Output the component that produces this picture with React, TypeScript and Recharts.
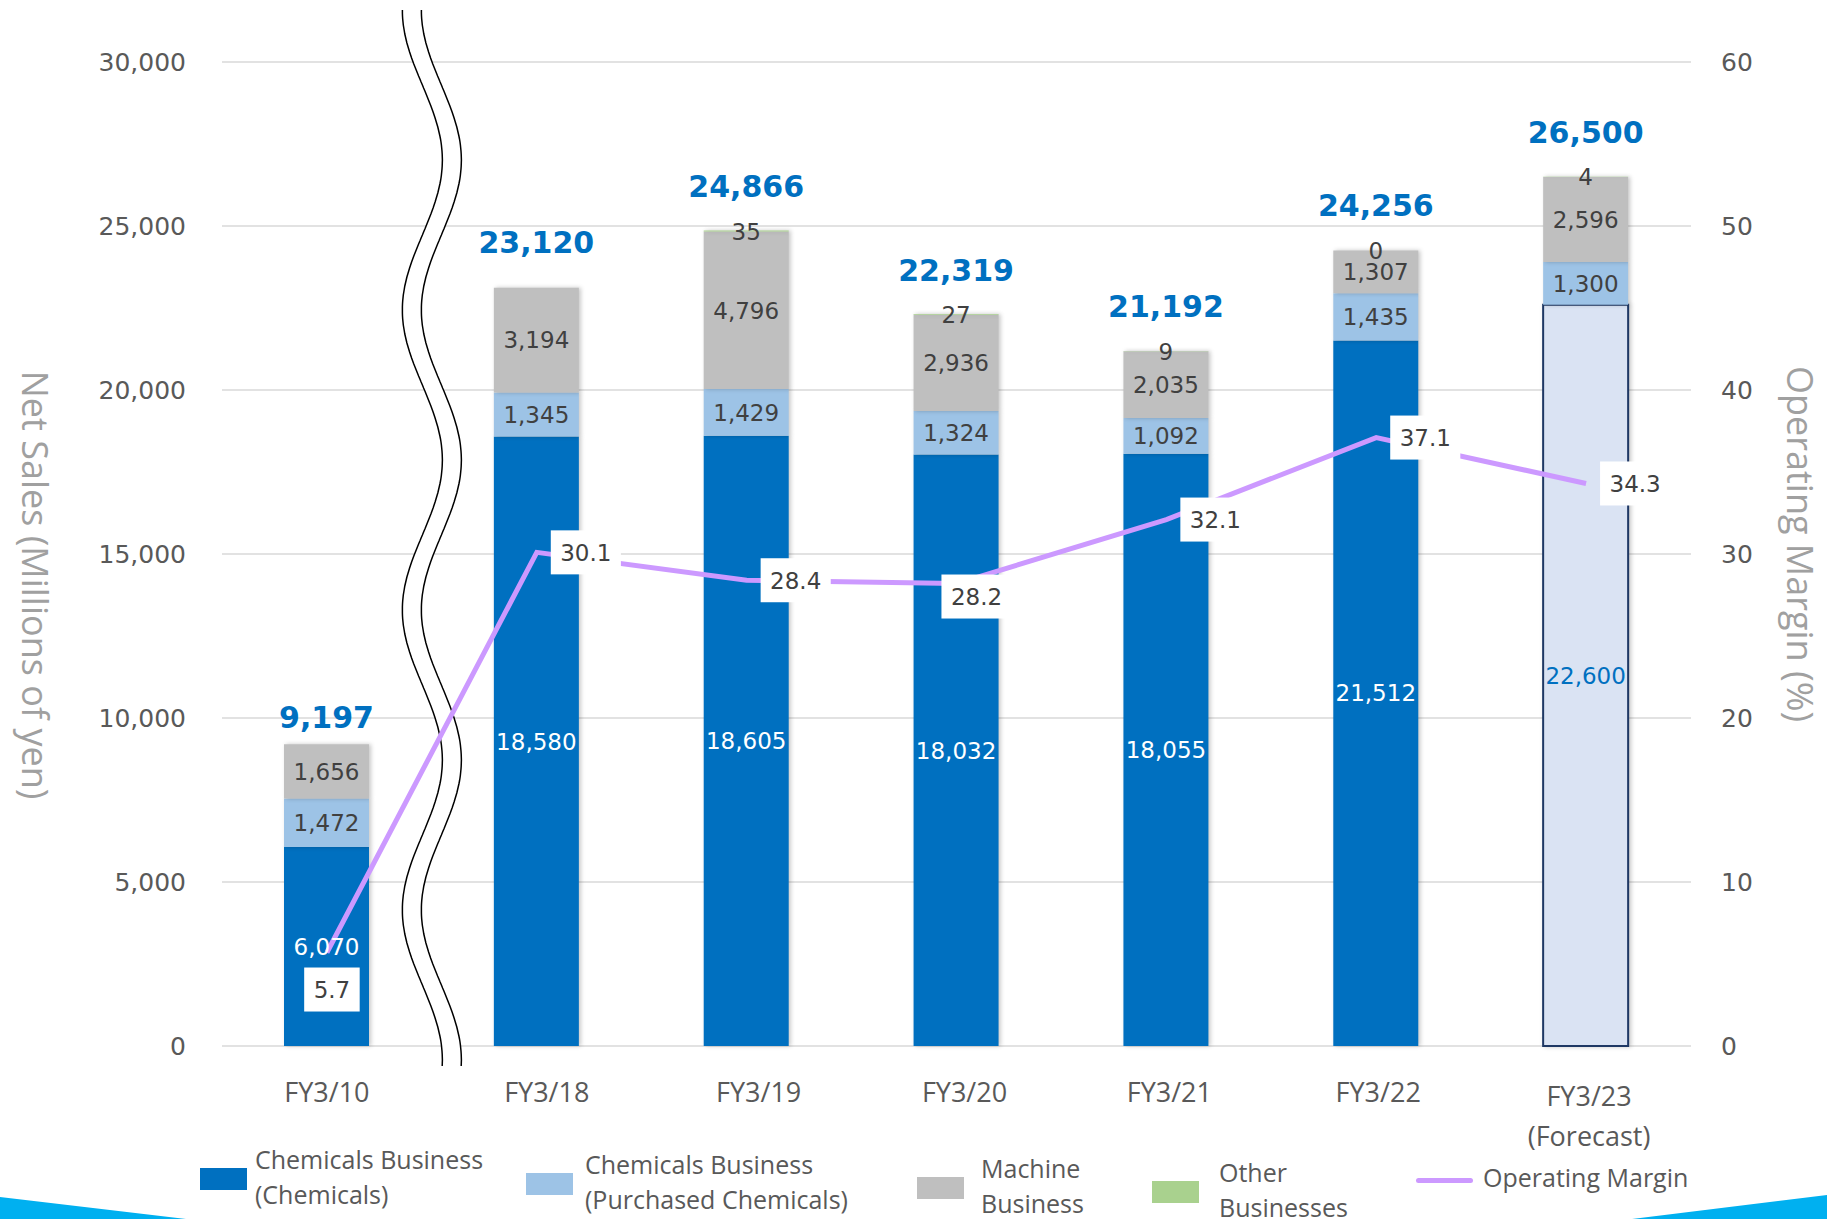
import type { ReactElement } from 'react'
import {
	Bar,
	CartesianGrid,
	Cell,
	ComposedChart,
	Customized,
	LabelList,
	Line,
	XAxis,
	YAxis
} from 'recharts'

const categories = ['FY3/10', 'FY3/18', 'FY3/19', 'FY3/20', 'FY3/21', 'FY3/22', 'FY3/23\n(Forecast)']
const chemicals = [6070, 18580, 18605, 18032, 18055, 21512, 22600]
const purchasedChemicals = [1472, 1345, 1429, 1324, 1092, 1435, 1300]
const machine = [1656, 3194, 4796, 2936, 2035, 1307, 2596]
const otherBusinesses: (number | null)[] = [null, null, 35, 27, 9, 0, 4]
const netSales = [9197, 23120, 24866, 22319, 21192, 24256, 26500]
const operatingMargin = [5.7, 30.1, 28.4, 28.2, 32.1, 37.1, 34.3]
const isForecast = [false, false, false, false, false, false, true]
const salesTicks = [0, 5000, 10000, 15000, 20000, 25000, 30000]
const marginTicks = [0, 10, 20, 30, 40, 50, 60]

const data = categories.map((name, i) => ({
	name,
	chemicals: chemicals[i],
	purchased: purchasedChemicals[i],
	machine: machine[i],
	other: otherBusinesses[i] ?? 0,
	total: netSales[i],
	margin: operatingMargin[i]
}))

// layout
const W = 1827
const H = 1219
const PLOT_LEFT = 222
const PLOT_RIGHT = 1691
const PLOT_TOP = 62
const PLOT_BOTTOM = 1046

// where each margin label box sits relative to its point
const marginLabelPlace = ['below', 'right', 'right', 'belowRight', 'right', 'right', 'right']
// small horizontal nudges of the category labels, as in the original slide
const tickNudge = [0, 10, 12, 8, 3, 2, 3]
// distance of the total label above the stack
const totalLabelGap = [27, 45, 45, 45, 45, 45, 45]

const VALUE_FONT = 'DejaVu Sans, Verdana, sans-serif'
const TEXT_FONT = 'Open Sans, sans-serif'

const fmt = (v: number) => v.toLocaleString('en-US')

const box = (p: any) => {
	const vb = p.viewBox ?? {}
	return {
		x: Number(p.x ?? vb.x ?? 0),
		y: Number(p.y ?? vb.y ?? 0),
		width: Number(p.width ?? vb.width ?? 0),
		height: Number(p.height ?? vb.height ?? 0)
	}
}

const segmentLabel = (color: (i: number) => string) => (p: any) => {
	const { x, y, width, height } = box(p)
	return (
		<text
			x={x + width / 2}
			y={y + height / 2}
			dy='0.36em'
			textAnchor='middle'
			fill={color(p.index)}
			fontFamily={VALUE_FONT}
			fontSize={23}
		>
			{fmt(Number(p.value))}
		</text>
	)
}

// drawn from the machine segment, whose top is (within a pixel) the top of the stack
const OtherLabel = (p: any) => {
	const v = otherBusinesses[p.index]
	if (v === null || v === undefined) return null
	const { x, y, width } = box(p)
	return (
		<text x={x + width / 2} y={y} dy='0.36em' textAnchor='middle' fill='#404040' fontFamily={VALUE_FONT} fontSize={23}>
			{fmt(v)}
		</text>
	)
}

const TotalLabel = (p: any) => {
	const { x, y, width } = box(p)
	return (
		<text
			x={x + width / 2}
			y={y - (totalLabelGap[p.index] ?? 45)}
			dy='0.36em'
			textAnchor='middle'
			fill='#0070C0'
			fontFamily={VALUE_FONT}
			fontWeight='bold'
			fontSize={30}
		>
			{fmt(Number(p.value))}
		</text>
	)
}

const MarginLabel = (p: any) => {
	const { x, y } = box(p)
	const text = Number(p.value).toFixed(1)
	const tw = text.length * 14.6 - 7.3
	const bw = tw + 19
	const bh = 44
	const place = marginLabelPlace[p.index]
	let cx = x + 14 + bw / 2
	let cy = y
	if (place === 'below') {
		cx = x + 5
		cy = y + 37
	} else if (place === 'belowRight') {
		cx = x + 20
		cy = y + 13
	}
	return (
		<g>
			<rect x={cx - bw / 2} y={cy - bh / 2} width={bw} height={bh} fill='#ffffff' />
			<text x={cx} y={cy} dy='0.36em' textAnchor='middle' fill='#404040' fontFamily={VALUE_FONT} fontSize={23}>
				{text}
			</text>
		</g>
	)
}

const XTick = (p: any) => {
	const lines = String(p.payload.value).split('\n')
	const x = p.x + (tickNudge[p.index] ?? 0)
	return (
		<text x={x} y={p.y} textAnchor='middle' fill='#595959' fontFamily={TEXT_FONT} fontSize={27}>
			{lines.map((line, i) => (
				<tspan key={line} x={x} dy={i === 0 ? (lines.length > 1 ? 60 : 56) : 40}>
					{line}
				</tspan>
			))}
		</text>
	)
}

const wave = (cx: number, top: number, bottom: number) => {
	const pts: string[] = []
	for (let y = top; y <= bottom; y += 3) {
		pts.push(`${(cx - 20 * Math.cos((Math.PI * (y - top)) / 150)).toFixed(1)},${y}`)
	}
	return pts
}

const AxisBreak = (): ReactElement => {
	const mid = PLOT_LEFT + (PLOT_RIGHT - PLOT_LEFT) / categories.length
	const a = wave(mid - 9.5, 10, 1066)
	const b = wave(mid + 9.5, 10, 1066)
	return (
		<g>
			<polygon points={[...a, ...[...b].reverse()].join(' ')} fill='#ffffff' />
			<polyline points={a.join(' ')} fill='none' stroke='#000000' strokeWidth={1.5} />
			<polyline points={b.join(' ')} fill='none' stroke='#000000' strokeWidth={1.5} />
		</g>
	)
}

const legendItems = [
	{ lines: ['Chemicals Business', '(Chemicals)'], color: '#0070C0', left: 200, top: 1142, textLeft: 55, kind: 'box' },
	{ lines: ['Chemicals Business', '(Purchased Chemicals)'], color: '#9DC3E6', left: 526, top: 1147, textLeft: 59, kind: 'box' },
	{ lines: ['Machine', 'Business'], color: '#BFBFBF', left: 917, top: 1151, textLeft: 64, kind: 'box' },
	{ lines: ['Other', 'Businesses'], color: '#A9D18E', left: 1152, top: 1155, textLeft: 67, kind: 'box' },
	{ lines: ['Operating Margin'], color: '#CC99FF', left: 1416, top: 1160, textLeft: 67, kind: 'line' }
]

const App = (): ReactElement => {
	return (
		<div style={{ position: 'absolute', left: 0, top: 0, width: W, height: H, background: '#ffffff', overflow: 'hidden' }}>
			<style>{'.recharts-bar-rectangles { filter: drop-shadow(2px 0 2px rgba(0,0,0,0.22)); }'}</style>
			<ComposedChart
				width={W}
				height={H}
				data={data}
				margin={{ top: PLOT_TOP, right: W - PLOT_RIGHT - 136, bottom: H - PLOT_BOTTOM - 100, left: 0 }}
			>
				<CartesianGrid yAxisId='left' vertical={false} stroke='#D9D9D9' strokeWidth={1.5} />
				<XAxis dataKey='name' axisLine={false} tickLine={false} tickSize={0} tickMargin={0} height={100} interval={0} tick={<XTick />} />
				<YAxis
					yAxisId='left'
					width={PLOT_LEFT}
					domain={[0, 30000]}
					ticks={salesTicks}
					axisLine={false}
					tickLine={false}
					tickSize={0}
					tickMargin={36}
					tickFormatter={fmt}
					tick={{ fill: '#595959', fontSize: 25, fontFamily: VALUE_FONT }}
				/>
				<YAxis
					yAxisId='right'
					orientation='right'
					width={136}
					domain={[0, 60]}
					ticks={marginTicks}
					axisLine={false}
					tickLine={false}
					tickSize={0}
					tickMargin={30}
					tick={{ fill: '#595959', fontSize: 25, fontFamily: VALUE_FONT, textAnchor: 'start' }}
				/>
				<Bar yAxisId='left' dataKey='chemicals' stackId='s' barSize={85} fill='#0070C0' isAnimationActive={false}>
					{data.map((_, i) => (
						<Cell
							key={`chem-${i}`}
							fill={isForecast[i] ? '#DAE3F3' : '#0070C0'}
							stroke={isForecast[i] ? '#1F3864' : 'none'}
							strokeWidth={isForecast[i] ? 2 : 0}
						/>
					))}
					<LabelList dataKey='chemicals' content={segmentLabel((i) => (isForecast[i] ? '#0070C0' : '#ffffff'))} />
				</Bar>
				<Bar yAxisId='left' dataKey='purchased' stackId='s' barSize={85} fill='#9DC3E6' isAnimationActive={false}>
					<LabelList dataKey='purchased' content={segmentLabel(() => '#404040')} />
				</Bar>
				<Bar yAxisId='left' dataKey='machine' stackId='s' barSize={85} fill='#BFBFBF' isAnimationActive={false}>
					<LabelList dataKey='machine' content={segmentLabel(() => '#404040')} />
					<LabelList dataKey='other' content={OtherLabel} />
					<LabelList dataKey='total' content={TotalLabel} />
				</Bar>
				<Bar yAxisId='left' dataKey='other' stackId='s' barSize={85} fill='#A9D18E' isAnimationActive={false} />
				<Customized component={<AxisBreak />} />
				<Line
					yAxisId='right'
					dataKey='margin'
					stroke='#CC99FF'
					strokeWidth={5}
					dot={false}
					isAnimationActive={false}
				>
					<LabelList dataKey='margin' content={MarginLabel} />
				</Line>
			</ComposedChart>

			<svg width={W} height={H} style={{ position: 'absolute', left: 0, top: 0, pointerEvents: 'none' }}>
				<text
					transform='translate(35 585) rotate(90)'
					textAnchor='middle'
					dy='0.36em'
					fill='#A0A0A0'
					fontFamily={TEXT_FONT}
					fontSize={36}
				>
					Net Sales (Millions of yen)
				</text>
				<text
					transform='translate(1800 544) rotate(90)'
					textAnchor='middle'
					dy='0.36em'
					fill='#A0A0A0'
					fontFamily={TEXT_FONT}
					fontSize={36}
				>
					Operating Margin (%)
				</text>
				<polygon points='0,1197 186,1219 0,1219' fill='#00B0F0' />
				<polygon points='1632,1219 1827,1195 1827,1219' fill='#00B0F0' />
			</svg>

			{legendItems.map((item) => (
				<div key={item.lines[0] + item.color} style={{ position: 'absolute', left: item.left, top: item.top }}>
					{item.kind === 'box' ? (
						<div style={{ position: 'absolute', left: 0, top: 26, width: 47, height: 22, background: item.color }} />
					) : (
						<div style={{ position: 'absolute', left: 0, top: 18, width: 57, height: 5, borderRadius: 3, background: item.color }} />
					)}
					<div
						style={{
							position: 'absolute',
							left: item.textLeft,
							top: 0,
							whiteSpace: 'nowrap',
							fontFamily: TEXT_FONT,
							fontSize: 25,
							lineHeight: '35px',
							color: '#595959'
						}}
					>
						{item.lines.map((l) => (
							<div key={l}>{l}</div>
						))}
					</div>
				</div>
			))}
		</div>
	)
}

export default App
